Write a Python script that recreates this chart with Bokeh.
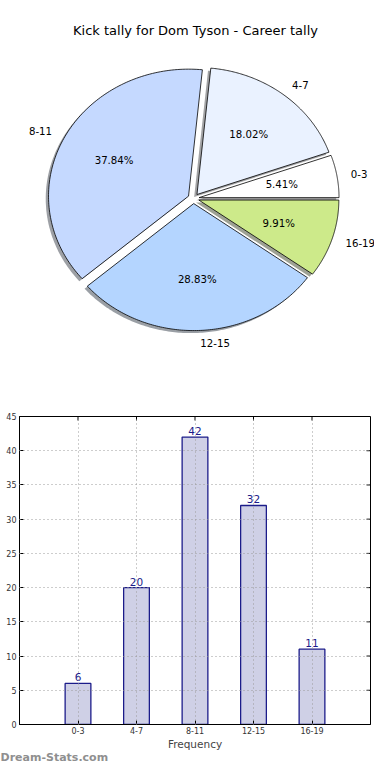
import numpy as np
from bokeh.plotting import figure
from bokeh.models import Range1d, FactorRange, Label, FixedTicker, ColumnDataSource, Title
from bokeh.core.properties import value
from bokeh.embed import file_html
from bokeh.resources import INLINE

# ---------------- data ----------------
title_text = "Kick tally for Dom Tyson - Career tally"
categories = ["0-3", "4-7", "8-11", "12-15", "16-19"]
counts = [6, 20, 42, 32, 11]
pie_colors = ["#ffffff", "#eaf2ff", "#c5d9ff", "#b4d5ff", "#cdea8a"]
y_ticks = [0, 5, 10, 15, 20, 25, 30, 35, 40, 45]
x_label = "Frequency"
watermark = "Dream-Stats.com"

# ---------------- layout constants ----------------
W = 374
PIE_H = 390
BAR_H = 374
RX, RY = 140.0, 127.0       # pie radius in px (elliptical, like the source)
CX, CY = 193.0, 198.0       # pie centre in canvas px (from top-left)
EXPLODE = 0.04
SHADOW = 0.02
FONT = "DejaVu Sans"

# ---------------- pie ----------------
p1 = figure(width=W, height=PIE_H, output_backend="svg", toolbar_location=None,
            x_range=Range1d(-CX / RX, (W - CX) / RX),
            y_range=Range1d(-(PIE_H - CY) / RY, CY / RY),
            x_axis_location=None, y_axis_location=None, min_border=0)
p1.grid.visible = False
p1.outline_line_color = None

total = float(sum(counts))
fracs = [c / total for c in counts]
starts = np.cumsum([0.0] + fracs[:-1]) * 2 * np.pi
ends = np.cumsum(fracs) * 2 * np.pi
mids = (starts + ends) / 2

xs, ys, sxs, sys_, shade = [], [], [], [], []
for a0, a1, m, col in zip(starts, ends, mids, pie_colors):
    ox, oy = EXPLODE * np.cos(m), EXPLODE * np.sin(m)
    t = np.linspace(a0, a1, 120)
    px = np.concatenate([[ox], ox + np.cos(t)])
    py = np.concatenate([[oy], oy + np.sin(t)])
    xs.append(px.tolist()); ys.append(py.tolist())
    sxs.append((px - SHADOW).tolist()); sys_.append((py - SHADOW).tolist())
    r, g, b = int(col[1:3], 16), int(col[3:5], 16), int(col[5:7], 16)
    shade.append("#%02x%02x%02x" % (int(r * 0.3), int(g * 0.3), int(b * 0.3)))

p1.patches(xs=sxs, ys=sys_, fill_color=shade, fill_alpha=0.5, line_color=None)
p1.patches(xs=xs, ys=ys, fill_color=pie_colors, line_color="black", line_width=0.8)

lab_r = EXPLODE + 1.1
pct_r = EXPLODE + 0.6
lx = lab_r * np.cos(mids); ly = lab_r * np.sin(mids)
idx_l = [i for i, v in enumerate(lx) if v > 0]
idx_r = [i for i, v in enumerate(lx) if v <= 0]
for idx, al in ((idx_l, "left"), (idx_r, "right")):
    src = ColumnDataSource(dict(x=[lx[i] for i in idx], y=[ly[i] for i in idx],
                                t=[categories[i] for i in idx]))
    p1.text(x="x", y="y", text="t", source=src, text_align=al, text_baseline="middle",
            text_font=value(FONT), text_font_size="10.2px", text_color="black")

p1.text(x=(pct_r * np.cos(mids)).tolist(), y=(pct_r * np.sin(mids)).tolist(),
        text=["%.2f%%" % (f * 100) for f in fracs], text_align="center", text_baseline="middle",
        text_font=value(FONT), text_font_size="10.2px", text_color="black")

p1.add_layout(Label(x=(195 - CX) / RX, y=(CY - 30) / RY, text=title_text,
                    text_align="center", text_baseline="middle", text_font=FONT,
                    text_font_size="13px", text_color="black"))

# ---------------- bar ----------------
p2 = figure(width=W, height=BAR_H, output_backend="svg", toolbar_location=None,
            x_range=FactorRange(*categories, range_padding=0.5, range_padding_units="absolute"),
            y_range=Range1d(y_ticks[0], y_ticks[-1]),
            min_border_left=19, min_border_right=4, min_border_top=26, min_border_bottom=0)

p2.vbar(x=categories, top=counts, width=0.44, fill_color="#cfd0e6",
        line_color="#1c1c8a", line_width=1.3)
p2.text(x=categories, y=counts, text=[str(c) for c in counts], text_align="center",
        text_baseline="alphabetic", y_offset=-6, text_font=value(FONT), text_font_size="10.5px",
        text_color="#1c1c8a")

# inner ticks on the top and right edges
n = len(categories)
p2.ray(x=categories, y=[y_ticks[-1]] * n, length=4, length_units="screen",
       angle=-np.pi / 2, line_color="black", line_width=1)
p2.ray(x=[n + 0.5] * len(y_ticks), y=y_ticks, length=4, length_units="screen",
       angle=np.pi, line_color="black", line_width=1)

p2.yaxis.ticker = FixedTicker(ticks=y_ticks)
for ax in (p2.xaxis[0], p2.yaxis[0]):
    ax.major_label_text_font = FONT
    ax.major_label_text_font_size = "8px"
    ax.major_label_text_color = "#333333"
    ax.major_tick_in = 4
    ax.major_tick_out = 0
    ax.minor_tick_in = 0
    ax.minor_tick_out = 0
    ax.axis_line_color = "black"
    ax.major_tick_line_color = "black"
    ax.major_label_standoff = 3
p2.xaxis.major_label_standoff = 2
p2.xaxis.axis_label = x_label
p2.xaxis.axis_label_text_font = FONT
p2.xaxis.axis_label_text_font_size = "10.5px"
p2.xaxis.axis_label_text_font_style = "normal"
p2.xaxis.axis_label_standoff = 1

for g in (p2.xgrid[0], p2.ygrid[0]):
    g.grid_line_color = "#9a9a9a"
    g.grid_line_dash = "1 3"
    g.grid_line_width = 1
    g.level = "overlay"
p2.outline_line_color = "black"
p2.outline_line_width = 1
p2.outline_line_alpha = 1

p2.add_layout(Title(text=watermark, align="left", vertical_align="top", offset=-19,
                    standoff=-3, text_font=FONT, text_font_size="11px",
                    text_font_style="bold", text_color="#8f8f8f"),
              "below")

open("out.html", "w").write(file_html([p1, p2], INLINE))
